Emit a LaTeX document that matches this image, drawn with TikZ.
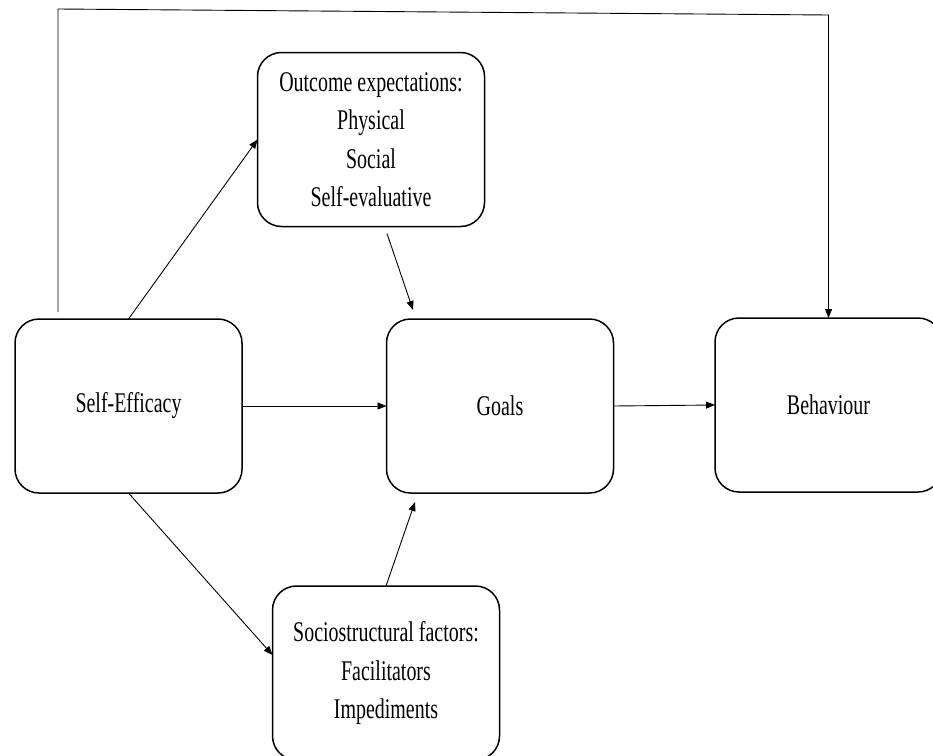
\documentclass[tikz,border=0pt]{standalone}
\usepackage{fontspec}
\setmainfont[FakeStretch=0.7]{Liberation Serif}
\usetikzlibrary{arrows.meta,calc}
\begin{document}
\begin{tikzpicture}[x=1pt,y=-1pt,
  box/.style={draw, line width=1.5pt, rounded corners=24pt,
    minimum width=227pt, minimum height=174pt, inner sep=0pt, outer sep=0pt,
    align=center, font=\fontsize{28.5}{38.5}\selectfont},
  link/.style={line width=0.9pt, -{Triangle[length=9pt,width=7pt]}}]
\clip (0,0) rectangle (933,755);
% boxes
\node[box] (se)    at (128.5,406) {Self-Efficacy};
\node[box] (goals) at (500,406)   {Goals};
\node[box] (beh)   at (828.5,405) {Behaviour};
\node[box] (oe)    at (371,139.5) {Outcome expectations:\\Physical\\Social\\Self-evaluative};
\node[box] (ss)    at (386,673)   {Sociostructural factors:\\Facilitators\\Impediments};
% direct paths
\draw[link] (se.north) -- (oe.west);
\draw[link] (se.east) -- (goals.west);
\draw[link] (goals.east) -- (beh.west);
\draw[link] (se.south) -- ($(ss.west)+(0,-18)$);
\draw[link] ($(oe.south)+(16,7)$) -- ($(goals.north)+(-87,-9)$);
\draw[link] (ss.north) -- ($(goals.south)+(-85,9)$);
% feedback loop from self-efficacy to behaviour
\coordinate (fbstart) at (58,312);
\coordinate (fbtl) at (58,9);
\coordinate (fbtr) at (828.5,15);
\draw[link] (fbstart) -- (fbtl) -- (fbtr) -- (beh.north);
\end{tikzpicture}
\end{document}
